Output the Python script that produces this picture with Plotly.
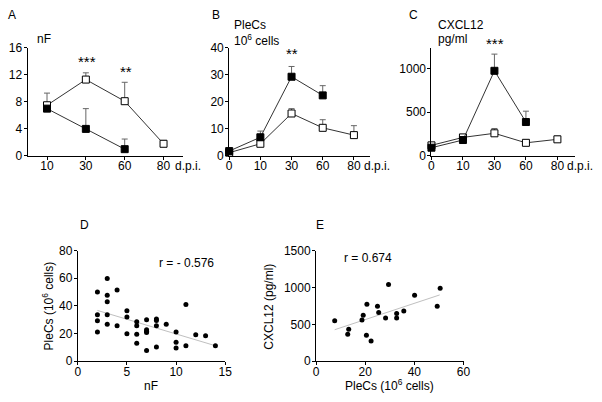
import plotly.graph_objects as go

# time-course panels (d.p.i.)
days_a = ["10", "30", "60", "80"]
nf_open = [7.5, 11.3, 8.1, 1.8]
nf_open_err = [1.8, 1.0, 2.8, 0.5]
nf_filled = [7.0, 4.0, 1.0, None]
nf_filled_err = [0.3, 3.0, 1.5, None]

days_bc = ["0", "10", "30", "60", "80"]
plecs_open = [1.2, 4.5, 15.7, 10.4, 7.7]
plecs_open_err = [0.3, 0.6, 1.8, 3.0, 3.5]
plecs_filled = [1.8, 6.9, 29.3, 22.4, None]
plecs_filled_err = [0.5, 2.3, 3.8, 3.6, None]

cxcl_open = [121, 212, 259, 150, 190]
cxcl_open_err = [20, 20, 55, 32, 36]
cxcl_filled = [94, 182, 974, 388, None]
cxcl_filled_err = [15, 15, 191, 124, None]

# correlation panels
d_nf = [2, 2, 2, 2, 3, 3, 3, 3, 3, 4, 4, 5, 5, 5, 6, 6, 6, 6, 7, 7, 7, 7, 7,
        8, 8, 8, 8, 9, 10, 10, 10, 11, 11, 12, 13, 14]
d_plecs = [50, 33.5, 29.3, 21.2, 59.8, 47.7, 43, 33.5, 26.7, 51.4, 25.6, 36.5,
           31.9, 19.8, 28.6, 25.6, 19.5, 13, 30, 22.8, 21.6, 20.7, 7.7, 30.5,
           29.5, 25.6, 10.2, 26.7, 21.2, 13.7, 9.5, 40.9, 11.2, 19.1, 18.4, 11.2]
d_fit_x = [2, 14]
d_fit_y = [36.7, 11.2]

e_plecs = [7.6, 13.3, 12.9, 18.7, 19.2, 20.7, 20.5, 22.4, 25, 25.5, 28.3,
           29.5, 32.8, 32.8, 35.7, 40.1, 49.3, 50.5]
e_cxcl = [549, 432, 366, 558, 624, 772, 353, 275, 746, 659, 584, 1038, 645,
          584, 680, 894, 746, 990]
e_fit_x = [7.6, 50.3]
e_fit_y = [427, 898]

W, H = 602, 402
FONT = "Liberation Sans, Arial, sans-serif"


def px(x):
    return x / W


def py(y):
    return 1 - y / H


def line_trace(days, vals, errs, filled, ax):
    idx = list(range(len(days)))
    return go.Scatter(
        x=idx, y=vals, xaxis="x" + ax, yaxis="y" + ax, mode="lines+markers",
        line=dict(color="#333", width=1), cliponaxis=False, showlegend=False,
        connectgaps=False,
        marker=dict(symbol="square", size=7,
                    color="black" if filled else "white",
                    line=dict(color="black", width=1)),
        error_y=dict(type="data", symmetric=False, array=errs,
                     arrayminus=[0] * len(errs), color="#666",
                     thickness=1, width=3),
    )


fig = go.Figure()
fig.add_trace(line_trace(days_a, nf_open, nf_open_err, False, ""))
fig.add_trace(line_trace(days_a, nf_filled, nf_filled_err, True, ""))
fig.add_trace(line_trace(days_bc, plecs_open, plecs_open_err, False, "2"))
fig.add_trace(line_trace(days_bc, plecs_filled, plecs_filled_err, True, "2"))
fig.add_trace(line_trace(days_bc, cxcl_open, cxcl_open_err, False, "3"))
fig.add_trace(line_trace(days_bc, cxcl_filled, cxcl_filled_err, True, "3"))

for fx, fy, sx, sy, ax in [(d_fit_x, d_fit_y, d_nf, d_plecs, "4"),
                           (e_fit_x, e_fit_y, e_plecs, e_cxcl, "5")]:
    fig.add_trace(go.Scatter(x=fx, y=fy, xaxis="x" + ax, yaxis="y" + ax,
                             mode="lines", line=dict(color="#c0c0c0", width=1),
                             showlegend=False))
    fig.add_trace(go.Scatter(x=sx, y=sy, xaxis="x" + ax, yaxis="y" + ax,
                             mode="markers", cliponaxis=False,
                             marker=dict(color="black", size=5),
                             showlegend=False))

axis_style = dict(showline=True, linecolor="black", linewidth=1,
                  ticks="outside", ticklen=3, tickcolor="black", tickwidth=1,
                  showgrid=False, zeroline=False, fixedrange=True,
                  tickfont=dict(size=12, color="black", family=FONT))
x_style = dict(axis_style, ticklabelstandoff=-4)
y_style = dict(axis_style, ticklabelstandoff=-1)

top, bottom = 42.3, 154.3
top2, bottom2 = 252.3, 367
layout = dict(
    width=W, height=H, margin=dict(l=0, r=0, t=0, b=0),
    paper_bgcolor="white", plot_bgcolor="white",
    font=dict(family=FONT, size=12, color="black"),
    xaxis=dict(x_style, domain=[px(25), px(183)], range=[-0.5, 3.5],
               tickvals=list(range(4)), ticktext=days_a, anchor="y"),
    yaxis=dict(y_style, domain=[py(bottom), py(top)], range=[0, 16],
               tickvals=[0, 4, 8, 12, 16], anchor="x"),
    xaxis2=dict(x_style, domain=[px(230), px(372.7)], range=[0, 4.5],
                tickvals=list(range(5)), ticktext=days_bc, anchor="y2"),
    yaxis2=dict(y_style, domain=[py(bottom), py(top)], range=[0, 40],
                tickvals=[0, 10, 20, 30, 40], anchor="x2"),
    xaxis3=dict(x_style, domain=[px(435.7), px(581.7)], range=[0, 4.56],
                tickvals=list(range(5)), ticktext=days_bc, anchor="y3"),
    yaxis3=dict(y_style, domain=[py(bottom), py(top)], range=[0, 1237],
                tickvals=[0, 500, 1000], anchor="x3"),
    xaxis4=dict(x_style, domain=[px(76), px(226)], range=[0, 15],
                tickvals=[0, 5, 10, 15], anchor="y4"),
    yaxis4=dict(y_style, domain=[py(bottom2), py(top2)], range=[0, 80],
                tickvals=[0, 20, 40, 60, 80], anchor="x4"),
    xaxis5=dict(x_style, domain=[px(318.3), px(468.3)], range=[0, 60],
                tickvals=[0, 20, 40, 60], anchor="y5"),
    yaxis5=dict(y_style, domain=[py(bottom2), py(top2)], range=[0, 1500],
                tickvals=[0, 500, 1000, 1500], anchor="x5"),
)
fig.update_layout(layout)


def note(text, x, y, xanchor="left", size=12, angle=0):
    fig.add_annotation(text=text, x=px(x), y=py(y), xref="paper", yref="paper",
                       xanchor=xanchor, yanchor="middle", showarrow=False,
                       textangle=angle,
                       font=dict(size=size, family=FONT, color="black"))


# panel letters
note("A", 3, 8)
note("B", 210, 8)
note("C", 411, 8)
note("D", 76, 226)
note("E", 316, 226)

# y titles of time-course panels
note("nF", 33, 33)
note("PleCs", 233, 19)
note("10<sup>6</sup> cells", 233, 34)
note("CXCL12", 440, 19)
note("pg/ml", 440, 33)

# d.p.i.
note("d.p.i.", 173, 165)
note("d.p.i.", 365, 165)
note("d.p.i.", 572, 165)

# significance stars
note("***", 85, 56, xanchor="center", size=15)
note("**", 125, 67, xanchor="center", size=15)
note("**", 294, 48, xanchor="center", size=15)
note("***", 500, 38, xanchor="center", size=15)

# correlation panel texts
note("r = - 0.576", 187, 265, xanchor="center")
note("r = 0.674", 371, 260, xanchor="center")
note("nF", 151, 393, xanchor="center")
note("PleCs (10<sup>6</sup> cells)", 393, 392, xanchor="center")
note("PleCs (10<sup>6</sup> cells)", 46, 310, xanchor="center", angle=-90)
note("CXCL12 (pg/ml)", 271, 310, xanchor="center", angle=-90)

fig.write_html("out.html", config={"displayModeBar": False},
               post_script="document.body.style.margin='0';")
